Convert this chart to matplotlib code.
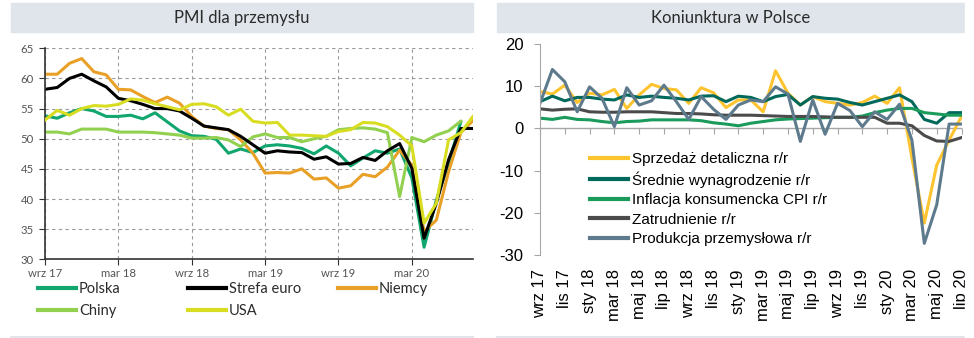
import numpy as np
import matplotlib
matplotlib.use('Agg')
import matplotlib.pyplot as plt
from matplotlib.patches import Rectangle
from matplotlib.lines import Line2D

# --- dane: PMI (wrz 17 - sie 20) ---
pmi_ticks = ['wrz 17', 'mar 18', 'wrz 18', 'mar 19', 'wrz 19', 'mar 20']
polska = [53.8, 53.4, 54.3, 55.0, 54.6, 53.7, 53.7, 53.9, 53.3, 54.3,
          52.8, 51.3, 50.5, 50.4, 49.9, 47.6, 48.3, 47.7, 48.8, 49.0,
          48.8, 48.4, 47.5, 48.8, 47.6, 45.5, 46.8, 48.0, 47.6, 48.3,
          43.5, 32.0, 39.8, 45.9, 52.8]
strefa_euro = [58.2, 58.5, 60.0, 60.7, 59.6, 58.6, 56.7, 56.3, 55.7, 55.0,
               55.0, 54.6, 53.4, 52.1, 51.8, 51.5, 50.4, 49.0, 47.6, 48.0,
               47.8, 47.7, 46.6, 47.0, 45.8, 45.9, 46.9, 46.4, 48.0, 49.2,
               45.1, 33.5, 39.3, 46.5, 51.7, 51.7]
niemcy = [60.7, 60.7, 62.5, 63.3, 61.1, 60.6, 58.2, 58.1, 57.0, 56.0,
          56.9, 55.9, 53.7, 52.1, 51.7, 51.5, 49.8, 47.6, 44.3, 44.4,
          44.3, 45.0, 43.3, 43.5, 41.8, 42.2, 44.1, 43.7, 45.3, 48.1,
          45.6, 34.6, 36.5, 44.5, 51.0, 53.0]
chiny = [51.1, 51.1, 50.8, 51.6, 51.6, 51.6, 51.1, 51.1, 51.1, 51.0,
         50.8, 50.6, 50.1, 50.1, 50.2, 49.8, 48.7, 50.3, 50.8, 50.2,
         50.2, 49.5, 50.0, 50.4, 51.5, 51.7, 51.8, 51.6, 51.0, 40.4,
         50.2, 49.5, 50.6, 51.3, 52.9]
usa = [53.1, 54.7, 53.9, 55.0, 55.5, 55.4, 55.7, 56.6, 56.4, 55.8,
       55.3, 54.8, 55.7, 55.8, 55.3, 53.9, 54.9, 52.9, 52.6, 52.7,
       50.6, 50.6, 50.5, 50.4, 51.2, 51.5, 52.7, 52.6, 52.0, 50.6,
       48.8, 36.0, 39.3, 49.8, 51.0, 53.7]

# --- dane: koniunktura w Polsce, r/r w % (wrz 17 - lip 20) ---
kon_ticks = ['wrz 17', 'lis 17', 'sty 18', 'mar 18', 'maj 18', 'lip 18',
             'wrz 18', 'lis 18', 'sty 19', 'mar 19', 'maj 19', 'lip 19',
             'wrz 19', 'lis 19', 'sty 20', 'mar 20', 'maj 20', 'lip 20']
sprzedaz = [8.7, 8.1, 10.2, 6.1, 8.3, 7.9, 9.2, 4.7, 7.9, 10.4,
            9.4, 9.1, 5.9, 9.6, 8.4, 4.9, 6.7, 6.7, 3.9, 13.6,
            8.3, 5.5, 7.5, 6.3, 5.9, 5.5, 6.1, 7.6, 5.9, 9.6,
            -7.0, -22.4, -8.7, -2.8, 2.8]
wynagrodzenie = [6.3, 7.6, 6.5, 7.3, 7.3, 6.9, 6.7, 7.9, 7.3, 7.6,
                 7.3, 7.1, 6.7, 7.6, 7.7, 6.3, 7.6, 7.3, 6.3, 7.5,
                 8.0, 5.5, 7.5, 7.1, 6.9, 6.1, 5.5, 6.3, 7.1, 7.9,
                 6.3, 2.1, 1.2, 3.7, 3.7]
inflacja = [2.4, 2.1, 2.6, 2.1, 2.0, 1.6, 1.3, 1.6, 1.7, 2.0,
            2.0, 2.0, 2.0, 1.8, 1.3, 1.0, 0.6, 1.2, 1.6, 2.0,
            2.2, 2.3, 2.4, 2.5, 2.6, 2.6, 2.9, 3.7, 4.3, 4.7,
            4.7, 3.7, 3.4, 3.1, 3.1]
zatrudnienie = [4.6, 4.3, 4.5, 4.6, 3.9, 3.8, 3.8, 3.9, 3.9, 3.9,
                3.7, 3.5, 3.5, 3.4, 3.2, 3.1, 3.1, 3.1, 3.0, 2.9,
                2.8, 2.8, 2.8, 2.7, 2.6, 2.6, 2.6, 2.6, 1.2, 1.2,
                0.6, -1.7, -3.0, -3.1, -2.2]
produkcja = [5.9, 13.9, 11.0, 3.9, 9.8, 7.1, 0.4, 9.6, 5.5, 6.5,
             10.2, 6.3, 2.1, 7.5, 4.5, 2.1, 5.5, 6.7, 6.3, 9.8,
             8.1, -3.1, 6.7, -1.4, 5.9, 4.2, 0.4, 3.9, 2.1, 5.7,
             -2.8, -27.2, -18.1, 1.0, 1.0]

plt.rcParams['font.family'] = ['Lato', 'DejaVu Sans']
plt.rcParams['axes.unicode_minus'] = False

W, H = 974, 338
fig = plt.figure(figsize=(W / 100, H / 100), dpi=100)


def box(x0, y0, x1, y1):
    # piksele (od lewego gornego rogu) -> wspolrzedne figury
    return [x0 / W, 1 - y1 / H, (x1 - x0) / W, (y1 - y0) / H]


band = '#dfe5ea'
for x0, x1, title in [(11, 473, 'PMI dla przemysłu'), (497, 965, 'Koniunktura w Polsce')]:
    fig.patches.append(Rectangle((x0 / W, 1 - 32 / H), (x1 - x0) / W, 29 / H,
                                 transform=fig.transFigure, color=band, zorder=0))
    fig.text((x0 + x1) / 2 / W, 1 - 18 / H, title, ha='center', va='center',
             fontsize=12, color='#2b2b2b')
    fig.lines.append(Line2D([x0 / W, x1 / W], [1 - 336.5 / H] * 2,
                            transform=fig.transFigure, color=band, lw=1.5))

# ---------------- lewy wykres: PMI ----------------
ax1 = fig.add_axes(box(45, 48.3, 473, 259.3))
series_l = [('Polska', polska, '#10a66e'),
            ('Strefa euro', strefa_euro, '#000000'),
            ('Niemcy', niemcy, '#e9a027'),
            ('Chiny', chiny, '#92d050'),
            ('USA', usa, '#d9dd22')]
lines_l = {}
for name, vals, col in series_l:
    ln, = ax1.plot(np.arange(len(vals)), vals, color=col, lw=2.2, label=name)
    lines_l[name] = ln
# kolejnosc rysowania
lines_l['USA'].set_zorder(2.6)
lines_l['Strefa euro'].set_zorder(2.5)

ax1.set_xlim(0, 35)
ax1.set_ylim(30, 65)
ax1.set_yticks(np.arange(30, 66, 5))
ax1.set_xticks(np.arange(0, 31, 6), pmi_ticks)
ax1.grid(True, ls=(0, (3, 3)), color='#9a9a9a', lw=0.8)
ax1.set_axisbelow(True)
for s in ['top', 'right']:
    ax1.spines[s].set_visible(False)
for s in ['left', 'bottom']:
    ax1.spines[s].set_color('#333333')
    ax1.spines[s].set_linewidth(1.2)
ax1.tick_params(axis='both', labelsize=8.2, labelcolor='#555555', color='#333333', length=4)
ax1.tick_params(axis='y', pad=4)
ax1.tick_params(axis='x', pad=2)

for cols, xpx in [(['Polska', 'Chiny'], 38), (['Strefa euro', 'USA'], 188), (['Niemcy'], 338)]:
    hs = [Line2D([], [], color=lines_l[c].get_color(), lw=3) for c in cols]
    leg = fig.legend(hs, cols, loc='upper left', bbox_to_anchor=(xpx / W, 1 - 282 / H),
                     frameon=False, fontsize=10.5, handlelength=2.6, handletextpad=0.2,
                     labelspacing=0.55, borderpad=0, borderaxespad=0)
    for t in leg.get_texts():
        t.set_color('#2b2b2b')

# ---------------- prawy wykres: koniunktura ----------------
arial = 'Liberation Sans'
ax2 = fig.add_axes(box(540, 43.7, 961.5, 255.2))
series_r = [('Sprzedaż detaliczna r/r', sprzedaz, '#fec42f'),
            ('Średnie wynagrodzenie r/r', wynagrodzenie, '#00695c'),
            ('Inflacja konsumencka CPI r/r', inflacja, '#1a9b5c'),
            ('Zatrudnienie r/r', zatrudnienie, '#4b4b4b'),
            ('Produkcja przemysłowa r/r', produkcja, '#5e7b8d')]
for name, vals, col in series_r:
    ax2.plot(np.arange(len(vals)), vals, color=col, lw=2.2, label=name)
ax2.axhline(0, color='#a6a6a6', lw=1, zorder=1.5)

ax2.set_xlim(0, 34)
ax2.set_ylim(-30, 20)
ax2.set_yticks(np.arange(-30, 21, 10))
ax2.set_xticks(np.arange(0, 35, 2), kon_ticks, rotation=90, fontfamily=arial)
for lab in ax2.get_yticklabels():
    lab.set_fontfamily(arial)
for s in ['top', 'right', 'bottom']:
    ax2.spines[s].set_visible(False)
ax2.spines['left'].set_color('#a6a6a6')
ax2.tick_params(axis='y', labelsize=12, length=4, color='#a6a6a6', pad=8)
ax2.tick_params(axis='x', labelsize=12, length=0, pad=10)

sec = ax2.secondary_xaxis(0.6)
sec.set_alignment('bottom')
sec.set_xticks(np.arange(0, 35, 2), [''] * 18)
sec.tick_params(axis='x', length=4, direction='out', color='#a6a6a6')
sec.spines['bottom'].set_visible(False)

leg2 = ax2.legend(loc='upper left', bbox_to_anchor=(0.1186, 0.488), frameon=False,
                  prop={'family': arial, 'size': 11}, handlelength=2.5, handletextpad=0.25,
                  labelspacing=0.35, borderpad=0, borderaxespad=0)
for h in leg2.legend_handles:
    h.set_linewidth(3)

# prawa krawedz panelu ucina ostatni opis osi
fig.patches.append(Rectangle((965 / W, 0), 1 - 965 / W, 1, transform=fig.transFigure,
                             color='white', zorder=10))

fig.savefig('out.png', dpi=100, facecolor='white')
